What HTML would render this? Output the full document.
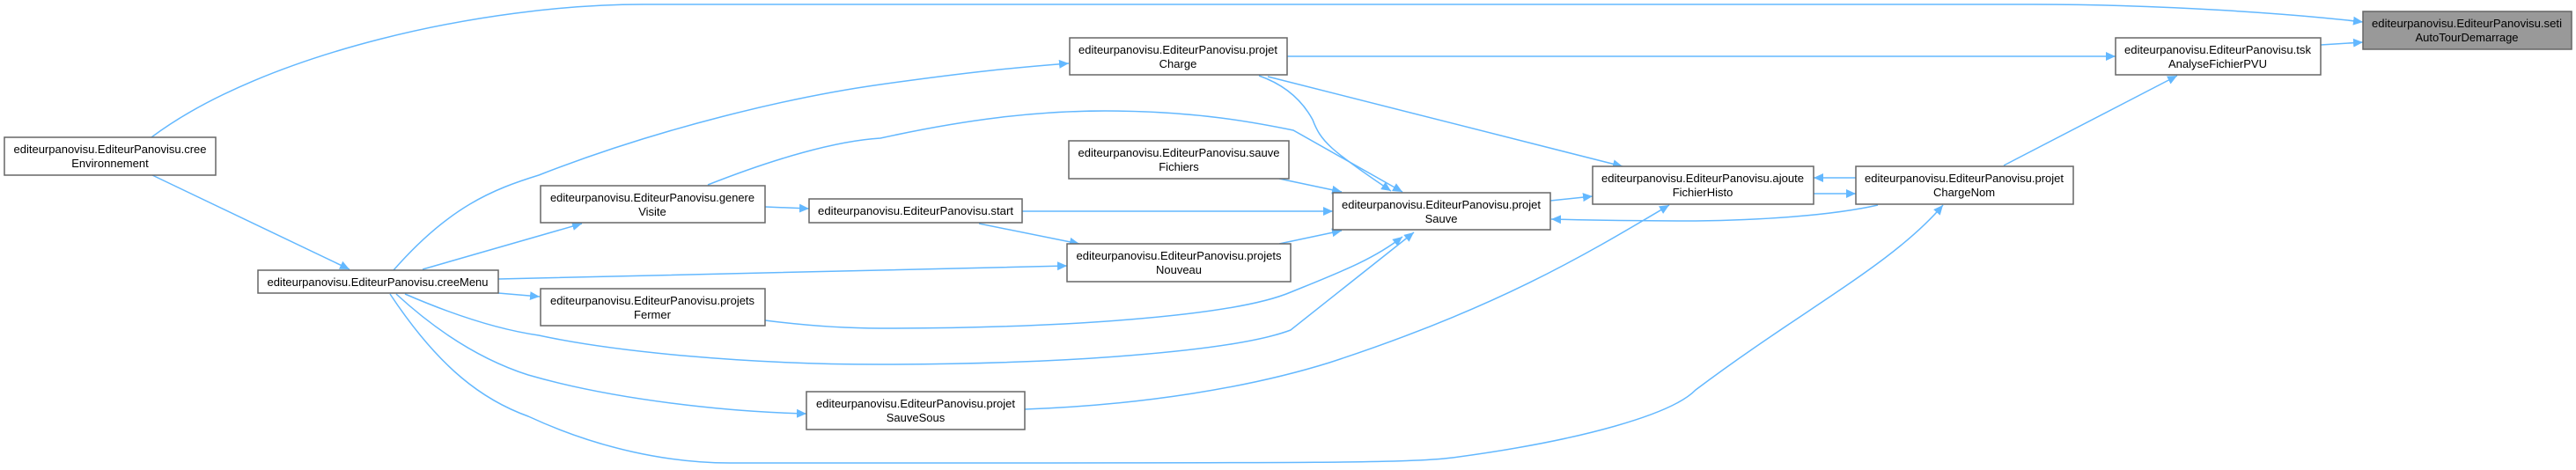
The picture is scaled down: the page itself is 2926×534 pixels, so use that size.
<!DOCTYPE html>
<html><head><meta charset="utf-8"><style>
html,body{margin:0;padding:0;background:#fff;}
svg{display:block;}
text{font-family:"Liberation Sans",sans-serif;font-size:13px;fill:#000;}
.n{fill:#fff;stroke:#666;stroke-width:1.5;}
.e{fill:none;stroke:#63b8ff;stroke-width:1.5;}
</style></head><body>
<svg width="2926" height="534" viewBox="0 0 2926 534" xmlns="http://www.w3.org/2000/svg">
<defs>
<marker id="a" markerUnits="userSpaceOnUse" markerWidth="12" markerHeight="10" refX="11" refY="5" orient="auto">
<path d="M0,0 L11,5 L0,10 z" fill="#63b8ff"/>
</marker>
</defs>
<g class="e" marker-end="url(#a)">
<path d="M172,156 C300,60 550,5 730,5 L2310,5 C2450,5 2600,15 2684,25"/>
<path d="M173,199 L397,306"/>
<path d="M447,307 C510,235 560,215 612,199 C750,145 900,110 1000,96 C1100,82 1150,77 1214,72"/>
<path d="M480,306 L661,254"/>
<path d="M804,210 C880,180 950,160 1000,157 C1100,135 1180,126 1255,126 C1360,126 1430,140 1469,148 L1593,218"/>
<path d="M869,235 L919,237"/>
<path d="M1161,240 L1514,240"/>
<path d="M1112,254 L1226,277"/>
<path d="M1453,203 L1524,218"/>
<path d="M1453,277 L1524,262"/>
<path d="M1430,86 C1470,100 1485,125 1491,136 C1500,160 1510,170 1580,217"/>
<path d="M1440,87 L1843,189"/>
<path d="M1462,64 L2403,64"/>
<path d="M566,317 L1000,307 L1212,302"/>
<path d="M566,333 L613,337"/>
<path d="M869,364 C900,368 950,373 1000,373 C1200,373 1400,360 1466,332 C1520,310 1560,295 1593,269"/>
<path d="M460,334 C520,360 570,375 612,381 C700,400 850,414 1000,414 C1200,414 1400,400 1466,375 L1606,264"/>
<path d="M450,334 C500,380 550,410 600,426 C700,455 830,468 916,470"/>
<path d="M443,334 C500,420 550,455 600,473 C680,510 760,526 829,526 L1000,526 C1500,526 1600,526 1650,520 C1800,500 1900,470 1926,443 C2050,350 2150,300 2207,233"/>
<path d="M1164,465 C1300,460 1420,440 1510,412 C1700,350 1800,290 1896,233"/>
<path d="M1761,228 L1809,223"/>
<path d="M2133,233 C2080,245 2000,250 1926,251 C1860,251 1800,250 1762,249"/>
<path d="M2108,202 L2060,202"/>
<path d="M2060,220 L2108,220"/>
<path d="M2276,188 L2473,86"/>
<path d="M2636,51 L2684,48"/>
</g>
<g>
<rect class="n" x="5" y="156" width="240" height="43"/>
<text x="125" y="174" text-anchor="middle" textLength="219" lengthAdjust="spacingAndGlyphs">editeurpanovisu.EditeurPanovisu.cree</text>
<text x="125" y="190" text-anchor="middle">Environnement</text>

<rect class="n" x="293" y="307" width="273" height="26"/>
<text x="429" y="325" text-anchor="middle" textLength="251" lengthAdjust="spacingAndGlyphs">editeurpanovisu.EditeurPanovisu.creeMenu</text>

<rect class="n" x="614" y="211" width="255" height="42"/>
<text x="741" y="229" text-anchor="middle" textLength="232" lengthAdjust="spacingAndGlyphs">editeurpanovisu.EditeurPanovisu.genere</text>
<text x="741" y="245" text-anchor="middle">Visite</text>

<rect class="n" x="614" y="328" width="255" height="42"/>
<text x="741" y="346" text-anchor="middle" textLength="232" lengthAdjust="spacingAndGlyphs">editeurpanovisu.EditeurPanovisu.projets</text>
<text x="741" y="362" text-anchor="middle">Fermer</text>

<rect class="n" x="919" y="226" width="242" height="27"/>
<text x="1040" y="244" text-anchor="middle" textLength="222" lengthAdjust="spacingAndGlyphs">editeurpanovisu.EditeurPanovisu.start</text>

<rect class="n" x="916" y="445" width="248" height="43"/>
<text x="1040" y="463" text-anchor="middle" textLength="226" lengthAdjust="spacingAndGlyphs">editeurpanovisu.EditeurPanovisu.projet</text>
<text x="1040" y="479" text-anchor="middle">SauveSous</text>

<rect class="n" x="1215" y="43" width="247" height="42"/>
<text x="1338" y="61" text-anchor="middle" textLength="226" lengthAdjust="spacingAndGlyphs">editeurpanovisu.EditeurPanovisu.projet</text>
<text x="1338" y="77" text-anchor="middle">Charge</text>

<rect class="n" x="1214" y="160" width="250" height="43"/>
<text x="1339" y="178" text-anchor="middle" textLength="229" lengthAdjust="spacingAndGlyphs">editeurpanovisu.EditeurPanovisu.sauve</text>
<text x="1339" y="194" text-anchor="middle">Fichiers</text>

<rect class="n" x="1212" y="277" width="254" height="43"/>
<text x="1339" y="295" text-anchor="middle" textLength="233" lengthAdjust="spacingAndGlyphs">editeurpanovisu.EditeurPanovisu.projets</text>
<text x="1339" y="311" text-anchor="middle">Nouveau</text>

<rect class="n" x="1514" y="219" width="247" height="42"/>
<text x="1637" y="237" text-anchor="middle" textLength="226" lengthAdjust="spacingAndGlyphs">editeurpanovisu.EditeurPanovisu.projet</text>
<text x="1637" y="253" text-anchor="middle">Sauve</text>

<rect class="n" x="1809" y="189" width="251" height="43"/>
<text x="1934" y="207" text-anchor="middle" textLength="230" lengthAdjust="spacingAndGlyphs">editeurpanovisu.EditeurPanovisu.ajoute</text>
<text x="1934" y="223" text-anchor="middle">FichierHisto</text>

<rect class="n" x="2108" y="189" width="247" height="43"/>
<text x="2231" y="207" text-anchor="middle" textLength="226" lengthAdjust="spacingAndGlyphs">editeurpanovisu.EditeurPanovisu.projet</text>
<text x="2231" y="223" text-anchor="middle">ChargeNom</text>

<rect class="n" x="2403" y="43" width="233" height="42"/>
<text x="2519" y="61" text-anchor="middle" textLength="212" lengthAdjust="spacingAndGlyphs">editeurpanovisu.EditeurPanovisu.tsk</text>
<text x="2519" y="77" text-anchor="middle">AnalyseFichierPVU</text>

<rect x="2684" y="13" width="237" height="43" fill="#999" stroke="#666" stroke-width="1.5"/>
<text x="2802" y="31" text-anchor="middle" textLength="216" lengthAdjust="spacingAndGlyphs">editeurpanovisu.EditeurPanovisu.seti</text>
<text x="2802" y="47" text-anchor="middle">AutoTourDemarrage</text>
</g>
</svg>
</body></html>
